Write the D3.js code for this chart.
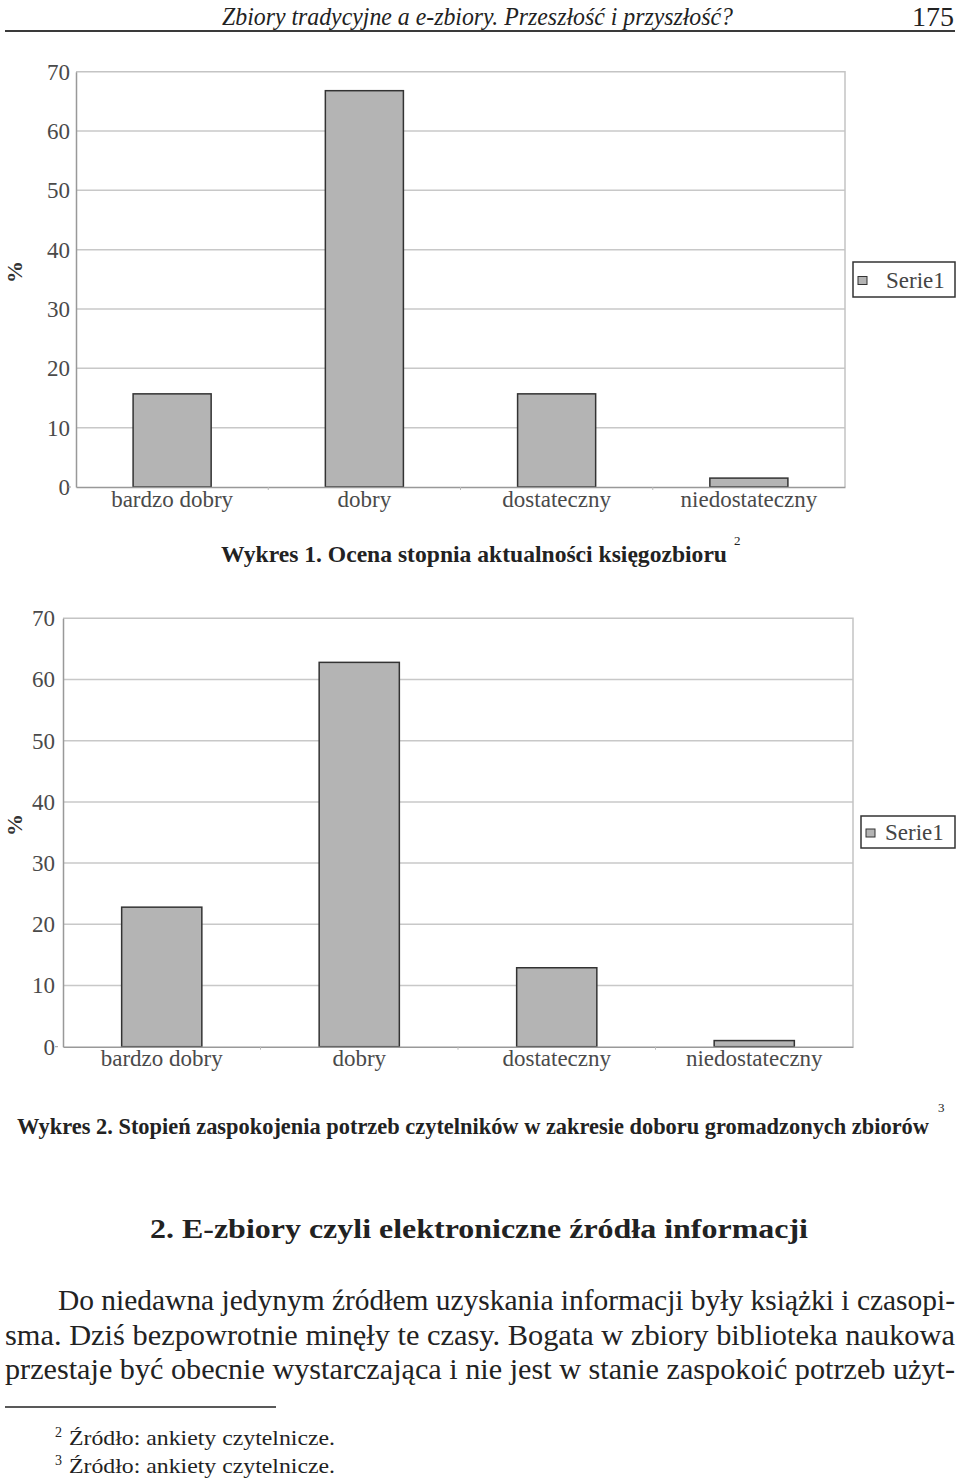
<!DOCTYPE html>
<html>
<head>
<meta charset="utf-8">
<script src="https://cdn.jsdelivr.net/npm/d3@7"></script>
<style>
  body { margin: 0; background: #fff; }
  svg text { font-family: 'Liberation Serif', Tinos, 'Times New Roman', Times, serif; }
</style>
</head>
<body>
<div id="page"></div>
<script>
// Chart data (percent)
const categories = ["bardzo dobry", "dobry", "dostateczny", "niedostateczny"];
const valuesChart1 = [15.7, 66.8, 15.7, 1.5];
const valuesChart2 = [22.8, 62.8, 12.9, 1.0];
const yTicks = [0, 10, 20, 30, 40, 50, 60, 70];
const seriesName = "Serie1";
const axisTitle = "%";

// Page texts
const headerTitle = "Zbiory tradycyjne a e-zbiory. Przeszłość i przyszłość?";
const pageNumber = "175";
const caption1 = "Wykres 1. Ocena stopnia aktualności księgozbioru";
const caption2 = "Wykres 2. Stopień zaspokojenia potrzeb czytelników w zakresie doboru gromadzonych zbiorów";
const sectionHeading = "2. E-zbiory czyli elektroniczne źródła informacji";
const bodyLines = [
  "Do niedawna jedynym źródłem uzyskania informacji były książki i czasopi-",
  "sma. Dziś bezpowrotnie minęły te czasy. Bogata w zbiory biblioteka naukowa",
  "przestaje być obecnie wystarczająca i nie jest w stanie zaspokoić potrzeb użyt-"
];
const footnotes = [
  { mark: "2", text: "Źródło: ankiety czytelnicze." },
  { mark: "3", text: "Źródło: ankiety czytelnicze." }
];

const W = 960, H = 1481;
const svg = d3.select("#page").append("svg")
  .attr("width", W)
  .attr("height", H);

svg.append("rect").attr("width", W).attr("height", H).attr("fill", "#fff");

// Header
svg.append("text")
  .attr("x", 222).attr("y", 25)
  .attr("textLength", 511).attr("lengthAdjust", "spacingAndGlyphs")
  .style("font-style", "italic").style("font-size", "25px").style("fill", "#222")
  .text(headerTitle);
svg.append("text")
  .attr("x", 954).attr("y", 26)
  .attr("text-anchor", "end")
  .style("font-size", "28px").style("fill", "#222")
  .text(pageNumber);
svg.append("line")
  .attr("x1", 5).attr("x2", 955).attr("y1", 31).attr("y2", 31)
  .attr("stroke", "#3a3a3a").attr("stroke-width", 2.2);

// Draw one bar chart inside the given plot box
function drawChart(values, box) {
  const g = svg.append("g");
  const labelColor = "#4a4a4a";

  const x = d3.scaleBand()
    .domain(categories)
    .range([box.left, box.right])
    .paddingInner(0.594)
    .paddingOuter(0.297);

  const y = d3.scaleLinear()
    .domain([0, 70])
    .range([box.bottom, box.top]);

  // Gridlines
  g.selectAll(".grid")
    .data(yTicks.filter((t) => t > 0 && t < 70))
    .join("line")
    .attr("x1", box.left).attr("x2", box.right)
    .attr("y1", (d) => y(d)).attr("y2", (d) => y(d))
    .attr("stroke", "#c8c8c8").attr("stroke-width", 1.5);

  // Frame top and right
  g.append("path")
    .attr("d", `M${box.left},${y(70)}H${box.right}V${y(0)}`)
    .attr("fill", "none").attr("stroke", "#c4c4c4").attr("stroke-width", 1.5);

  // Bars
  g.selectAll(".bar")
    .data(values.map((v, i) => ({ name: categories[i], value: v })))
    .join("rect")
    .attr("class", "bar")
    .attr("x", (d) => x(d.name))
    .attr("y", (d) => y(d.value))
    .attr("width", x.bandwidth())
    .attr("height", (d) => y(0) - y(d.value))
    .attr("fill", "#b4b4b4")
    .attr("stroke", "#333").attr("stroke-width", 1.5);

  // Y axis
  const yAxis = g.append("g")
    .attr("transform", `translate(${box.left},0)`)
    .call(d3.axisLeft(y).tickValues(yTicks).tickSize(0).tickPadding(box.yPad));
  yAxis.attr("font-family", null);
  yAxis.select(".domain").attr("stroke", "#999").attr("stroke-width", 1.5);
  yAxis.selectAll("text")
    .style("font-size", "23px")
    .attr("fill", labelColor);

  // small tick mark next to the zero label
  g.append("line")
    .attr("x1", box.left - 8).attr("x2", box.left - 5)
    .attr("y1", y(0)).attr("y2", y(0))
    .attr("stroke", "#999").attr("stroke-width", 1);

  // X axis
  const xAxis = g.append("g")
    .attr("transform", `translate(0,${box.bottom})`)
    .call(d3.axisBottom(x).tickSize(0).tickPadding(box.xPad));
  xAxis.attr("font-family", null);
  xAxis.select(".domain").attr("stroke", "#999").attr("stroke-width", 1.5);
  xAxis.selectAll("text")
    .style("font-size", "23px")
    .attr("fill", labelColor);

  // category boundary ticks
  g.selectAll(".btick")
    .data(d3.range(1, categories.length))
    .join("line")
    .attr("x1", (i) => box.left + i * x.step())
    .attr("x2", (i) => box.left + i * x.step())
    .attr("y1", y(0)).attr("y2", y(0) + 3)
    .attr("stroke", "#bbb").attr("stroke-width", 1);

  // Axis title
  g.append("text")
    .attr("transform", `translate(${box.titleX},${box.titleY}) rotate(-90)`)
    .attr("text-anchor", "middle")
    .attr("dy", "0.35em")
    .style("font-size", "22px").style("font-weight", "bold")
    .style("fill", "#333")
    .text(axisTitle);

  // Legend
  const lg = g.append("g").attr("transform", `translate(${box.legend.x},${box.legend.y})`);
  lg.append("rect")
    .attr("width", box.legend.w).attr("height", box.legend.h)
    .attr("fill", "#fff").attr("stroke", "#333").attr("stroke-width", 1.5);
  lg.append("rect")
    .attr("x", 5).attr("y", box.legend.h / 2 - 3)
    .attr("width", 9).attr("height", 8)
    .attr("fill", "#b4b4b4").attr("stroke", "#333").attr("stroke-width", 1);
  lg.append("text")
    .attr("x", box.legend.textX).attr("y", box.legend.h / 2 + 8)
    .style("font-size", "23px").style("fill", "#444")
    .text(seriesName);
}

drawChart(valuesChart1, {
  left: 76, right: 845, top: 71.7, bottom: 487,
  yPad: 6, xPad: 4,
  titleX: 14, titleY: 272,
  legend: { x: 853, y: 262, w: 102, h: 35, textX: 33 }
});

drawChart(valuesChart2, {
  left: 63, right: 853, top: 618.3, bottom: 1046.7,
  yPad: 8, xPad: 3,
  titleX: 14, titleY: 825,
  legend: { x: 861, y: 816, w: 94, h: 32, textX: 24 }
});

// Captions
function caption(text, x, y, len, mark, mx, my) {
  svg.append("text")
    .attr("x", x).attr("y", y)
    .attr("textLength", len).attr("lengthAdjust", "spacingAndGlyphs")
    .style("font-size", "23px").style("font-weight", "bold").style("fill", "#222")
    .text(text);
  svg.append("text")
    .attr("x", mx).attr("y", my)
    .style("font-size", "13px").style("fill", "#222")
    .text(mark);
}
caption(caption1, 221, 562, 506, "2", 734, 545);
caption(caption2, 17, 1134, 912, "3", 938, 1112);

// Section heading
svg.append("text")
  .attr("x", 479).attr("y", 1238)
  .attr("text-anchor", "middle")
  .attr("textLength", 658).attr("lengthAdjust", "spacingAndGlyphs")
  .style("font-size", "28px").style("font-weight", "bold").style("fill", "#222")
  .text(sectionHeading);

// Body text (justified)
const bodyX = [58, 5, 5];
const bodyY = [1310, 1345, 1379];
bodyLines.forEach((line, i) => {
  svg.append("text")
    .attr("x", bodyX[i]).attr("y", bodyY[i])
    .attr("textLength", 955 - bodyX[i]).attr("lengthAdjust", "spacingAndGlyphs")
    .style("font-size", "29px").style("fill", "#222")
    .text(line);
});

// Footnotes
svg.append("line")
  .attr("x1", 5).attr("x2", 276).attr("y1", 1407).attr("y2", 1407)
  .attr("stroke", "#222").attr("stroke-width", 1.5);
footnotes.forEach((f, i) => {
  const by = 1445 + i * 28;
  svg.append("text")
    .attr("x", 55).attr("y", by - 8)
    .style("font-size", "14px").style("fill", "#222")
    .text(f.mark);
  svg.append("text")
    .attr("x", 69).attr("y", by)
    .attr("textLength", 266).attr("lengthAdjust", "spacingAndGlyphs")
    .style("font-size", "22px").style("fill", "#222")
    .text(f.text);
});
</script>
</body>
</html>
